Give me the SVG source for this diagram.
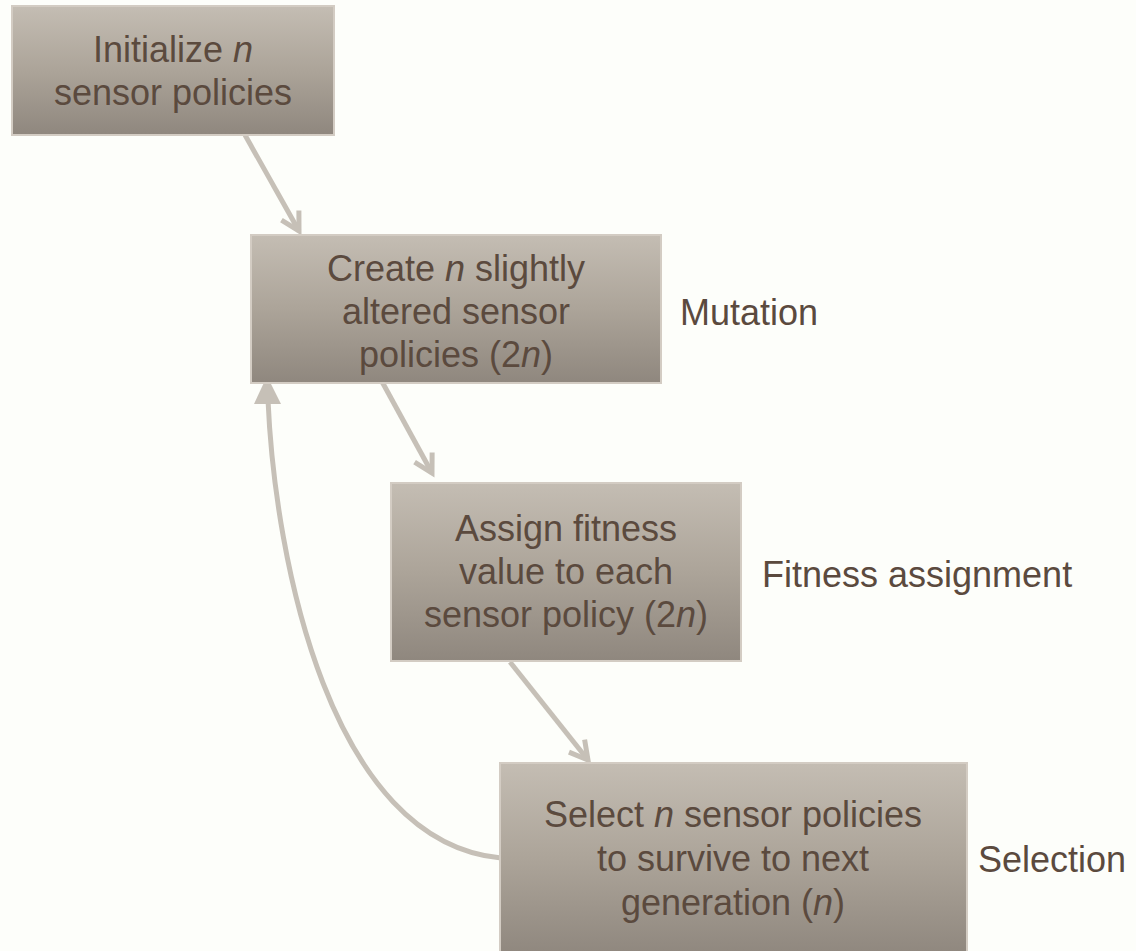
<svg xmlns="http://www.w3.org/2000/svg" width="1136" height="951" viewBox="0 0 1136 951">
<defs>
<linearGradient id="boxg" x1="0" y1="0" x2="0" y2="1">
<stop offset="0" stop-color="#c4bdb3"/>
<stop offset="0.5" stop-color="#aca499"/>
<stop offset="1" stop-color="#8f877e"/>
</linearGradient>
<marker id="vh" markerUnits="userSpaceOnUse" viewBox="-26 -16 32 32" markerWidth="32" markerHeight="32" refX="0" refY="0" orient="auto">
<path d="M-18,-10 L0,0 L-18,10" fill="none" stroke="#c6c0b7" stroke-width="5"/>
</marker>
<style>
.box{fill:url(#boxg);stroke:#d3ccc3;stroke-width:2}
.t{font-family:"Liberation Sans",Arial,sans-serif;font-size:36px;fill:#5b4a3e}
.c{text-anchor:middle}
.con{fill:none;stroke:#c6c0b7;stroke-width:5}
</style>
</defs>
<rect width="1136" height="951" fill="#fdfefa"/>
<g id="connectors">
<line class="con" x1="245" y1="135" x2="299" y2="231" marker-end="url(#vh)"/>
<line class="con" x1="380" y1="378" x2="432" y2="473" marker-end="url(#vh)"/>
<line class="con" x1="510" y1="662" x2="588" y2="760" marker-end="url(#vh)"/>
<path class="con" d="M501,858 C330,842 275,560 268,400"/>
<polygon points="267,376 254,404 281,404" fill="#c6c0b7"/>
</g>
<g id="node1">
<rect class="box" x="12" y="6" width="322" height="129"/>
<text class="t c" x="173" y="62">Initialize <tspan font-style="italic">n</tspan></text>
<text class="t c" x="173" y="105">sensor policies</text>
</g>
<g id="node2">
<rect class="box" x="251" y="235" width="410" height="148"/>
<text class="t c" x="456" y="281">Create <tspan font-style="italic">n</tspan> slightly</text>
<text class="t c" x="456" y="324">altered sensor</text>
<text class="t c" x="456" y="367">policies (2<tspan font-style="italic">n</tspan>)</text>
</g>
<g id="node3">
<rect class="box" x="391" y="483" width="350" height="178"/>
<text class="t c" x="566" y="541">Assign fitness</text>
<text class="t c" x="566" y="584">value to each</text>
<text class="t c" x="566" y="627">sensor policy (2<tspan font-style="italic">n</tspan>)</text>
</g>
<g id="node4">
<rect class="box" x="500" y="763" width="467" height="192"/>
<text class="t c" x="733" y="827">Select <tspan font-style="italic">n</tspan> sensor policies</text>
<text class="t c" x="733" y="871">to survive to next</text>
<text class="t c" x="733" y="915">generation (<tspan font-style="italic">n</tspan>)</text>
</g>
<g id="label-mutation"><text class="t" x="680" y="325">Mutation</text></g>
<g id="label-fitness"><text class="t" x="762" y="587">Fitness assignment</text></g>
<g id="label-selection"><text class="t" x="978" y="872">Selection</text></g>
</svg>
